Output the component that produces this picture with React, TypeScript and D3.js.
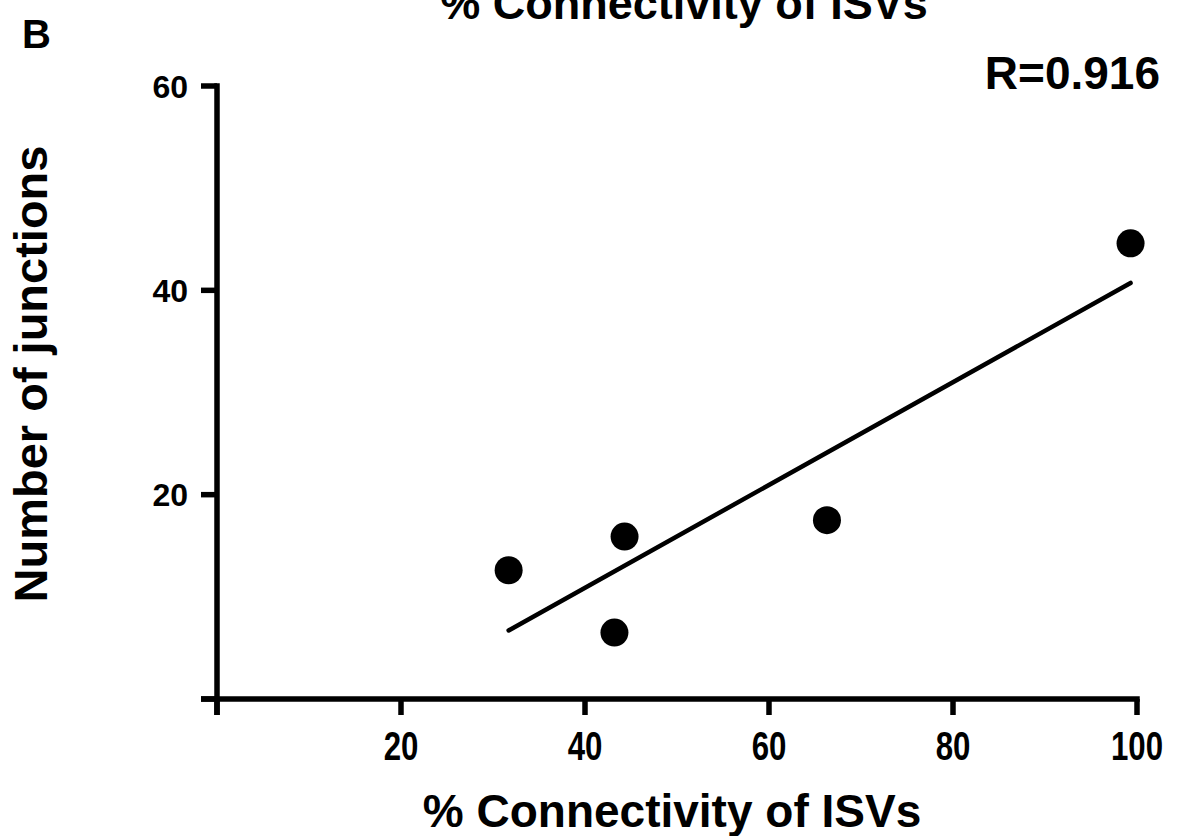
import React from "react";
import { scaleLinear, mean, sum } from "d3";

// % connectivity of ISVs vs number of junctions
const connectivity = [31.7, 43.2, 44.3, 66.3, 99.3];
const junctions = [12.6, 6.5, 15.9, 17.5, 44.6];
const xTicks = [20, 40, 60, 80, 100];
const yTicks = [20, 40, 60];
const rLabel = "R=0.916";

const W = 1181;
const H = 836;
const font = "'Liberation Sans', Arial, Helvetica, sans-serif";

const App = () => {
  const xScale = scaleLinear().domain([0, 100]).range([217, 1137]);
  const yScale = scaleLinear().domain([0, 60]).range([699, 86]);

  // least squares fit through the points
  const mx = mean(connectivity) as number;
  const my = mean(junctions) as number;
  const sxy = sum(connectivity, (x, i) => (x - mx) * (junctions[i] - my));
  const sxx = sum(connectivity, (x) => (x - mx) * (x - mx));
  const slope = sxy / sxx;
  const icpt = my - slope * mx;
  const x0 = Math.min(...connectivity);
  const x1 = Math.max(...connectivity);

  const axisW = 5.5;
  const tickLen = 16;

  const points = connectivity.map((x, i) => (
    <circle key={i} cx={xScale(x)} cy={yScale(junctions[i])} r={14} fill="#000" />
  ));

  const xTickMarks = [0, ...xTicks].map((t) => (
    <line key={t} x1={xScale(t)} x2={xScale(t)} y1={yScale(0)} y2={yScale(0) + tickLen}
      stroke="#000" strokeWidth={axisW} />
  ));
  const xTickLabels = xTicks.map((t) => (
    <text key={t} transform={`translate(${xScale(t)},760) scale(0.78,1)`} textAnchor="middle"
      fontSize={40} fontWeight="bold" fontFamily={font}>{t}</text>
  ));
  const yTickMarks = [0, ...yTicks].map((t) => (
    <line key={t} x1={xScale(0) - tickLen} x2={xScale(0)} y1={yScale(t)} y2={yScale(t)}
      stroke="#000" strokeWidth={axisW} />
  ));
  const yTickLabels = yTicks.map((t) => (
    <text key={t} x={188} y={yScale(t) + 11.5} textAnchor="end" fontSize={32}
      fontWeight="bold" fontFamily={font}>{t}</text>
  ));

  return (
    <svg width={W} height={H} viewBox={`0 0 ${W} ${H}`}
      style={{ position: "absolute", left: 0, top: 0, background: "#fff" }}>
      <text x={22} y={48} fontSize={40} fontWeight="bold" fontFamily={font}>B</text>
      <text x={684} y={19} textAnchor="middle" fontSize={45} fontWeight="bold" fontFamily={font}>
        % Connectivity of ISVs
      </text>

      {/* axes */}
      <line x1={xScale(0)} x2={xScale(0)} y1={yScale(60) - axisW / 2} y2={yScale(0) + tickLen}
        stroke="#000" strokeWidth={axisW} />
      <line x1={xScale(0) - tickLen} x2={xScale(100) + axisW / 2} y1={yScale(0)} y2={yScale(0)}
        stroke="#000" strokeWidth={axisW} />
      {xTickMarks}
      {yTickMarks}
      {xTickLabels}
      {yTickLabels}

      {/* fit */}
      <line x1={xScale(x0)} y1={yScale(slope * x0 + icpt)} x2={xScale(x1)} y2={yScale(slope * x1 + icpt)}
        stroke="#000" strokeWidth={4.5} strokeLinecap="round" />
      {points}

      <text x={1160} y={89} textAnchor="end" fontSize={46} fontWeight="bold" fontFamily={font}>{rLabel}</text>

      <text transform={`translate(47,374) rotate(-90)`} textAnchor="middle" fontSize={47}
        fontWeight="bold" fontFamily={font}>Number of junctions</text>
      <text x={672} y={827} textAnchor="middle" fontSize={46} fontWeight="bold" fontFamily={font}>
        % Connectivity of ISVs
      </text>
    </svg>
  );
};

export default App;
